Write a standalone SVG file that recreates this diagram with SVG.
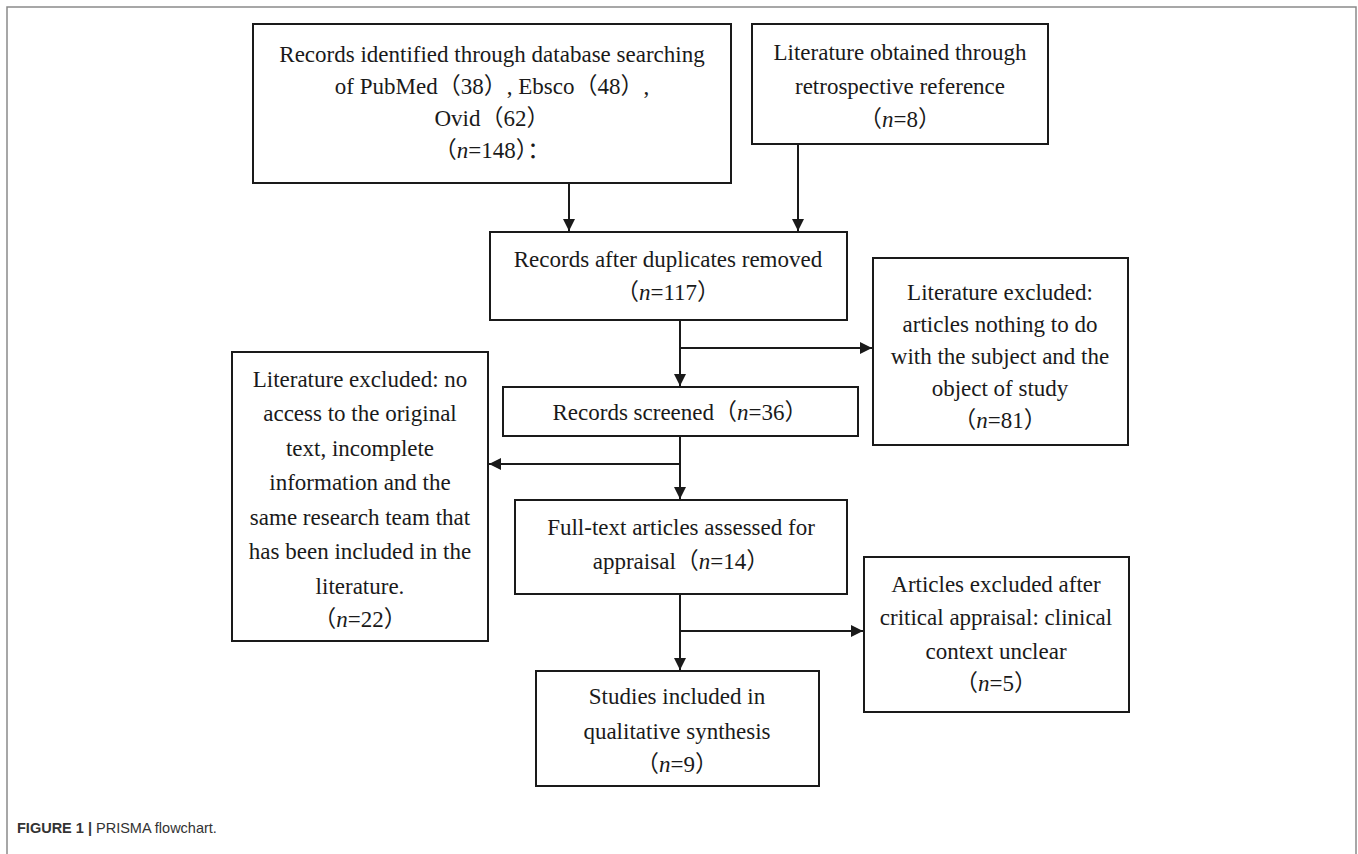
<svg xmlns="http://www.w3.org/2000/svg" width="1358" height="854" viewBox="0 0 1358 854">
<style>
.box{fill:#fff;stroke:#1a1a1a;stroke-width:2}
.t{font-family:"Liberation Serif","Noto Sans CJK SC",serif;font-size:23px;fill:#1a1a1a;text-anchor:middle}
.i{font-style:italic}
.c{stroke:#1a1a1a;stroke-width:2;fill:none}
.cap{font-family:"Liberation Sans",Arial,sans-serif;font-size:14.5px;fill:#333}
</style>
<defs>
<marker id="ah" markerUnits="userSpaceOnUse" markerWidth="14" markerHeight="12" refX="12" refY="6" orient="auto">
<path d="M0,0 L12,6 L0,12 Z" fill="#1a1a1a"/>
</marker>
</defs>
<rect width="1358" height="854" fill="#fff"/>
<path d="M7,854 V7 H1356 V854" fill="none" stroke="#8a8a8a" stroke-width="1.5"/>

<g id="connectors">
<line class="c" x1="569" y1="183" x2="569" y2="231" marker-end="url(#ah)"/>
<line class="c" x1="798" y1="144" x2="798" y2="231" marker-end="url(#ah)"/>
<line class="c" x1="680" y1="320" x2="680" y2="386" marker-end="url(#ah)"/>
<line class="c" x1="680" y1="348" x2="872" y2="348" marker-end="url(#ah)"/>
<line class="c" x1="680" y1="436" x2="680" y2="499" marker-end="url(#ah)"/>
<line class="c" x1="680" y1="464" x2="489" y2="464" marker-end="url(#ah)"/>
<line class="c" x1="680" y1="594" x2="680" y2="670" marker-end="url(#ah)"/>
<line class="c" x1="680" y1="631" x2="863" y2="631" marker-end="url(#ah)"/>
</g>

<g id="n1">
<rect class="box" x="253" y="24" width="478" height="159"/>
<text class="t" x="492" y="62">Records identified through database searching</text>
<text class="t" x="492" y="94">of PubMed（38）, Ebsco（48）,</text>
<text class="t" x="492" y="126">Ovid（62）</text>
<text class="t" x="492" y="158">（<tspan class="i">n</tspan>=148）：</text>
</g>

<g id="n2">
<rect class="box" x="752" y="24" width="296" height="120"/>
<text class="t" x="900" y="60">Literature obtained through</text>
<text class="t" x="900" y="94">retrospective reference</text>
<text class="t" x="900" y="127">（<tspan class="i">n</tspan>=8）</text>
</g>

<g id="n3">
<rect class="box" x="490" y="232" width="357" height="88"/>
<text class="t" x="668" y="267">Records after duplicates removed</text>
<text class="t" x="668" y="300">（<tspan class="i">n</tspan>=117）</text>
</g>

<g id="n4">
<rect class="box" x="503" y="387" width="355" height="49"/>
<text class="t" x="680" y="420">Records screened（<tspan class="i">n</tspan>=36）</text>
</g>

<g id="n5">
<rect class="box" x="873" y="258" width="255" height="187"/>
<text class="t" x="1000" y="300">Literature excluded:</text>
<text class="t" x="1000" y="332">articles nothing to do</text>
<text class="t" x="1000" y="364">with the subject and the</text>
<text class="t" x="1000" y="396">object of study</text>
<text class="t" x="1000" y="428">（<tspan class="i">n</tspan>=81）</text>
</g>

<g id="n6">
<rect class="box" x="232" y="352" width="256" height="289"/>
<text class="t" x="360" y="387">Literature excluded: no</text>
<text class="t" x="360" y="421">access to the original</text>
<text class="t" x="360" y="456">text, incomplete</text>
<text class="t" x="360" y="490">information and the</text>
<text class="t" x="360" y="525">same research team that</text>
<text class="t" x="360" y="559">has been included in the</text>
<text class="t" x="360" y="594">literature.</text>
<text class="t" x="360" y="627">（<tspan class="i">n</tspan>=22）</text>
</g>

<g id="n7">
<rect class="box" x="515" y="500" width="332" height="94"/>
<text class="t" x="681" y="535">Full-text articles assessed for</text>
<text class="t" x="681" y="569">appraisal（<tspan class="i">n</tspan>=14）</text>
</g>

<g id="n8">
<rect class="box" x="864" y="557" width="265" height="155"/>
<text class="t" x="996" y="592">Articles excluded after</text>
<text class="t" x="996" y="625">critical appraisal: clinical</text>
<text class="t" x="996" y="659">context unclear</text>
<text class="t" x="996" y="691">（<tspan class="i">n</tspan>=5）</text>
</g>

<g id="n9">
<rect class="box" x="536" y="671" width="283" height="115"/>
<text class="t" x="677" y="704">Studies included in</text>
<text class="t" x="677" y="739">qualitative synthesis</text>
<text class="t" x="677" y="772">（<tspan class="i">n</tspan>=9）</text>
</g>

<text class="cap" x="17" y="833"><tspan font-weight="bold">FIGURE 1 |</tspan> PRISMA flowchart.</text>
</svg>
